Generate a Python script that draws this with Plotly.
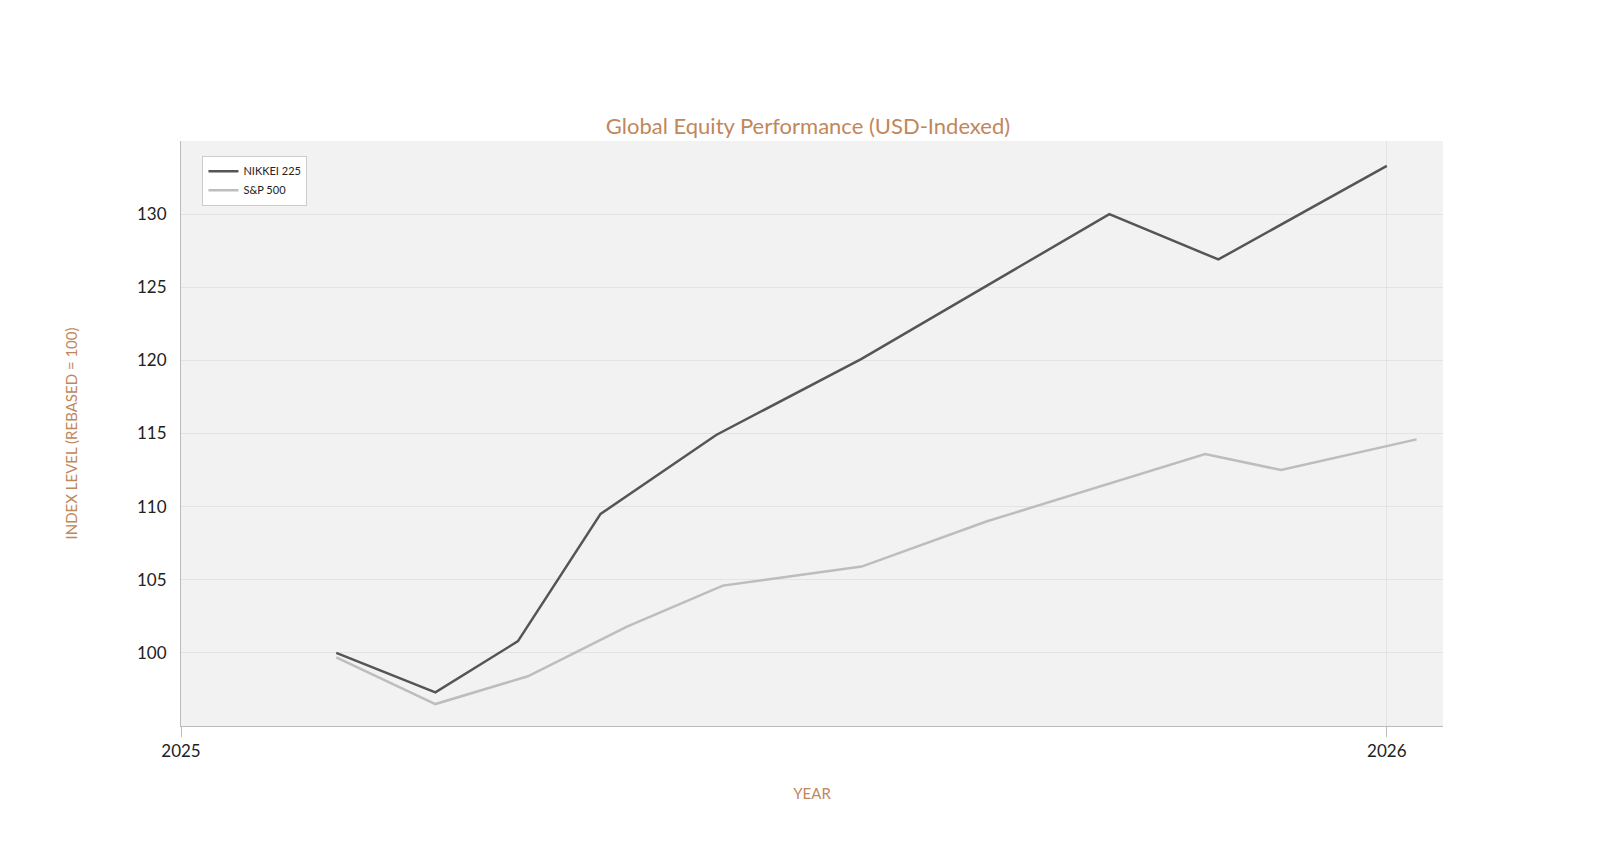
import plotly.graph_objects as go

nikkei_dates = ["2025-02-17", "2025-03-19", "2025-04-13", "2025-05-08", "2025-06-12",
                "2025-07-26", "2025-10-09", "2025-11-11", "2026-01-01"]
nikkei_vals = [100.0, 97.3, 100.8, 109.5, 114.9, 120.1, 130.0, 126.9, 133.3]

sp_dates = ["2025-02-17", "2025-03-19", "2025-04-16", "2025-05-16", "2025-06-14",
            "2025-07-26", "2025-09-02", "2025-11-07", "2025-11-30", "2026-01-10"]
sp_vals = [99.7, 96.5, 98.4, 101.8, 104.6, 105.9, 109.0, 113.6, 112.5, 114.6]

accent = "#c0875a"
font = "Lato, 'Noto Sans', sans-serif"

fig = go.Figure()
fig.add_trace(go.Scatter(x=nikkei_dates, y=nikkei_vals, mode="lines", name="NIKKEI 225",
                         line=dict(color="#555555", width=2.5)))
fig.add_trace(go.Scatter(x=sp_dates, y=sp_vals, mode="lines", name="S&P 500",
                         line=dict(color="#bdbdbd", width=2.5)))

fig.update_layout(
    width=1600, height=859,
    paper_bgcolor="white", plot_bgcolor="#f2f2f2",
    margin=dict(l=173, r=165, t=133, b=141),
    font=dict(family=font, color="#222222", size=17),
    title=dict(text="Global Equity Performance (USD-Indexed)", x=0.5, xanchor="center",
               y=0.862, yanchor="middle", font=dict(color=accent, size=22)),
    legend=dict(x=0.017, y=0.975, xanchor="left", yanchor="top", bgcolor="white",
                bordercolor="#cccccc", borderwidth=1, font=dict(size=11, color="#222")),
    showlegend=True,
)
fig.update_xaxes(
    range=["2025-01-01", "2026-01-18"], tickvals=["2025-01-01", "2026-01-01"],
    ticktext=["2025", "2026"], showgrid=True, gridcolor="#e3e3e3",
    showline=True, linecolor="#bbbbbb", ticks="outside", tickcolor="#bbbbbb", ticklen=10,
    title=dict(text="YEAR", font=dict(color=accent, size=15), standoff=28), zeroline=False,
)
fig.update_yaxes(
    range=[95, 135], tickvals=[100, 105, 110, 115, 120, 125, 130], showgrid=True,
    gridcolor="#e3e3e3", showline=True, linecolor="#bbbbbb", zeroline=False,
    ticks="outside", tickcolor="rgba(0,0,0,0)", ticklen=10,
    title=dict(text="INDEX LEVEL (REBASED = 100)", font=dict(color=accent, size=15), standoff=55),
)
fig.write_html("out.html")
